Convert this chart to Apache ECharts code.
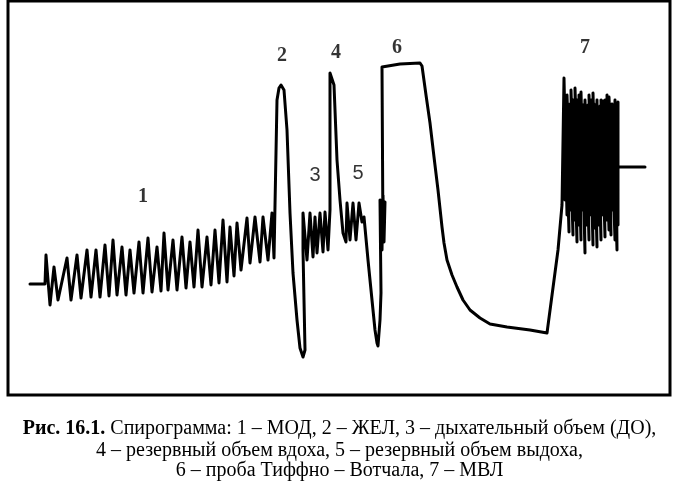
<!DOCTYPE html>
<html><head><meta charset="utf-8">
<script src="https://cdn.jsdelivr.net/npm/echarts@6/dist/echarts.min.js"></script>
<style>html,body{margin:0;padding:0;background:#fff}#c{width:679px;height:491px}</style>
</head><body><div id="c"></div>
<script>
// time (arbitrary units) and volume (arbitrary units) readings of the spirogram trace
const restStart = [[30,116],[45,116]];
const mod = [
  [46,145],[50,95],[54,133],[58,100],[67,142],[71,100],[77,145],[81,102],[87,150],[91,103],
  [96,150],[100,103],[105,155],[109,104],[113,160],[117,105],[122,153],[126,105],[130,150],[134,107],
  [139,158],[143,107],[148,162],[152,108],[157,153],[161,109],[164,167],[168,110],[173,160],[177,110],
  [182,163],[186,112],[190,158],[194,113],[198,170],[202,113],[207,163],[211,115],[215,170],[219,117],
  [223,180],[227,118],[230,173],[234,124],[237,177],[241,130],[247,182],[250,137],[255,183],[260,138],
  [263,183],[268,140],[272,187],[274,142]
];
const vital = [
  [277,300],[279,312],[281,315],[284,310],[287,270],[290,187],[293,127],[297,80],[300,52],[303,43],
  [305,50],[304,100],[303,150],[303,187]
];
const tidal = [
  [307,140],[310,187],[313,143],[315,183],[317,147],[320,187],[323,148],[325,188],[328,150],[330,190]
];
const inspReserve = [
  [330,327],[332,327],[334,315],[335,290],[337,240],[340,200],[343,167],[346,158],[347,197],[350,160],
  [353,197],[356,160],[359,197],[362,178]
];
const expReserve = [
  [364,183],[368,140],[372,100],[375,70],[377,57],[378,54],[380,80],[381,107],[380,200],[382,150],
  [383,205],[384,158],[385,198],[383,160],[382,333]
];
const tiffeneau = [
  [384,335],[400,336],[420,337],[422,334],[426,305],[430,277],[434,243],[438,210],[442,173],[444,157],
  [447,140],[452,125],[457,113],[463,100],[470,90],[480,82],[490,76],[507,73],[530,70],[547,67],
  [558,150],[562,195]
];
const mvlPass1 = [
  [564,322],[567,185],[565,300],[569,168],[567,305],[571,190],[569,292],[573,165],[571,310],[575,180],
  [573,298],[577,158],[575,312],[579,175],[577,300],[581,160],[579,305],[583,190],[581,308],[585,147],
  [583,295],[587,175],[585,300],[589,160],[587,285],[591,185],[589,305],[593,155],[591,300],[595,172],
  [593,307],[597,153],[595,290],[599,175],[597,295],[601,160],[599,285],[603,185],[601,300],[605,163],
  [603,292],[607,180],[605,300],[609,170],[607,305],[611,165],[609,303],[613,190],[611,285],[615,160],
  [613,280],[617,150],[616,270],[618,175]
];
const mvlPass2 = [
  [618,298],[616,195],[615,300],[613,200],[612,296],[610,193],[609,300],[607,198],[606,295],[604,192],
  [603,299],[601,196],[600,294],[598,190],[597,300],[595,197],[594,296],[592,192],[591,298],[589,198],
  [588,295],[586,193],[585,300],[583,197],[582,294],[580,192],[579,299],[577,196],[576,295],[574,191],
  [573,300],[571,197],[570,296],[568,193],[567,298],[565,200],[566,290]
];
const mvlPass3 = [
  [569,200],[572,290],[575,198],[578,292],[581,200],[584,290],[587,197],[590,293],[593,200],[596,290],
  [599,198],[602,292],[605,200],[608,290],[611,198],[614,285],[616,233],[645,233]
];
const labelText = ['1','2','3','4','5','6','7'];
const labelTime = [143,282,315,336,358,397,585];
const labelVolume = [203,344,225,347,227,352,352];
const labelBold = [true,true,false,true,false,true,true];
const captionLines = [
  ['Рис. 16.1.', ' Спирограмма: 1 – МОД, 2 – ЖЕЛ, 3 – дыхательный объем (ДО),'],
  ['', '4 – резервный объем вдоха, 5 – резервный объем выдоха,'],
  ['', '6 – проба Тиффно – Вотчала, 7 – МВЛ']
];
const captionTop = [419, 441, 461];

const trace = [].concat(restStart, mod, vital, tidal, inspReserve, expReserve, tiffeneau, mvlPass1, mvlPass2, mvlPass3);
const labelData = labelText.map((t,i)=>({value:[labelTime[i],labelVolume[i]], name:t,
  label:{fontFamily: labelBold[i] ? 'Liberation Serif' : 'Liberation Sans',
         fontWeight: labelBold[i] ? 'bold' : 'normal',
         fontSize: 20}}));

const chart = echarts.init(document.getElementById('c'), null, {renderer:'canvas'});
chart.setOption({
  animation:false,
  backgroundColor:'#fff',
  grid:{left:8, top:1, width:662, height:394, show:true, borderColor:'#000', borderWidth:3, backgroundColor:'transparent'},
  xAxis:{type:'value', min:8, max:670, show:false, splitLine:{show:false}},
  yAxis:{type:'value', min:5, max:399, show:false, splitLine:{show:false}},
  series:[
    {type:'line', data:trace, showSymbol:false, smooth:false, silent:true,
     lineStyle:{color:'#000', width:3, join:'round', cap:'round'}},
    {type:'scatter', data:labelData, symbolSize:1, itemStyle:{color:'rgba(0,0,0,0)'}, silent:true,
     label:{show:true, position:'inside', color:'#000', formatter:p=>p.name}}
  ],
  graphic: captionLines.map((ln,i)=>({
    type:'text', left:'center', top:captionTop[i],
    style:{
      text: (ln[0] ? '{b|'+ln[0]+'}' : '') + '{r|'+ln[1]+'}',
      rich:{
        b:{fontFamily:'Liberation Serif', fontWeight:'bold', fontSize:20, color:'#000'},
        r:{fontFamily:'Liberation Serif', fontSize:20, color:'#000'}
      },
      fill:'#000'
    }
  }))
});
</script></body></html>
